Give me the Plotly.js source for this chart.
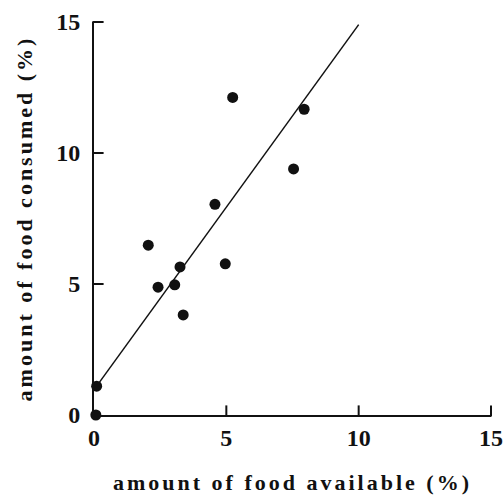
<!DOCTYPE html>
<html>
<head>
<meta charset="utf-8">
<script src="https://cdn.plot.ly/plotly-3.0.1.min.js"></script>
<style>
html,body{margin:0;padding:0;background:#fff;}
#chart{width:503px;height:502px;}
.xtitle,.ytitle{letter-spacing:3px;}
</style>
</head>
<body>
<div id="chart"></div>
<script>
// Observed points: amount of food available (%) vs amount of food consumed (%)
const available = [0.07, 0.1, 2.05, 2.42, 3.05, 3.25, 3.37, 4.57, 4.96, 5.24, 7.54, 7.94];
const consumed  = [0.0, 1.1, 6.48, 4.88, 4.97, 5.65, 3.82, 8.04, 5.77, 12.12, 9.39, 11.67];
// Fitted regression line endpoints
const fitX = [0.1, 10.0];
const fitY = [1.1, 14.9];
// Tick values and labels (both axes)
const tickVals = [0, 5, 10, 15];
const tickText = ['0', '5', '10', '15'];
const axisRange = [0, 15];

const serif = 'Liberation Serif, Times New Roman, serif';
const W = 503, H = 502;
const M = {l: 94, r: 12, t: 22, b: 87};
const TICKLEN = 8;
const plotW = W - M.l - M.r, plotH = H - M.t - M.b;
const span = axisRange[1] - axisRange[0];
// half a tick length expressed in data units, so each tick mark starts on the axis line
const halfTickX = (TICKLEN / 2) * span / plotW;
const halfTickY = (TICKLEN / 2) * span / plotH;
const innerTicks = tickVals.filter(v => v > axisRange[0]);

const traces = [
  {x: fitX, y: fitY, mode: 'lines', type: 'scatter',
   line: {color: '#111', width: 1.5}, cliponaxis: false},
  {x: available, y: consumed, mode: 'markers', type: 'scatter',
   marker: {color: '#111', size: 11}, cliponaxis: false},
  // inside tick marks on the x axis
  {x: innerTicks, y: innerTicks.map(() => axisRange[0] + halfTickY), mode: 'markers', type: 'scatter',
   marker: {symbol: 'line-ns-open', size: TICKLEN, color: '#111', line: {color: '#111', width: 2}},
   cliponaxis: false, hoverinfo: 'skip'},
  // inside tick marks on the y axis
  {x: innerTicks.map(() => axisRange[0] + halfTickX), y: innerTicks, mode: 'markers', type: 'scatter',
   marker: {symbol: 'line-ew-open', size: TICKLEN, color: '#111', line: {color: '#111', width: 2}},
   cliponaxis: false, hoverinfo: 'skip'}
];

const axisCommon = {
  range: axisRange, tickvals: tickVals, ticktext: tickText,
  ticks: 'inside', ticklen: TICKLEN, tickwidth: 2, tickcolor: 'rgba(0,0,0,0)',
  showline: true, linecolor: '#111', linewidth: 2,
  showgrid: false, zeroline: false,
  tickfont: {family: serif, size: 24, color: '#111', weight: 'bold'}
};

const layout = {
  width: W, height: H, margin: M,
  paper_bgcolor: '#fff', plot_bgcolor: '#fff',
  showlegend: false,
  xaxis: Object.assign({}, axisCommon, {
    title: {text: 'amount of food available (%)', standoff: 25,
            font: {family: serif, size: 22, color: '#111', weight: 'bold'}}
  }),
  yaxis: Object.assign({}, axisCommon, {
    ticklabelstandoff: 7,
    title: {text: 'amount of food consumed (%)', standoff: 18,
            font: {family: serif, size: 22, color: '#111', weight: 'bold'}}
  })
};

Plotly.newPlot('chart', traces, layout, {staticPlot: true, displayModeBar: false});
</script>
</body>
</html>
